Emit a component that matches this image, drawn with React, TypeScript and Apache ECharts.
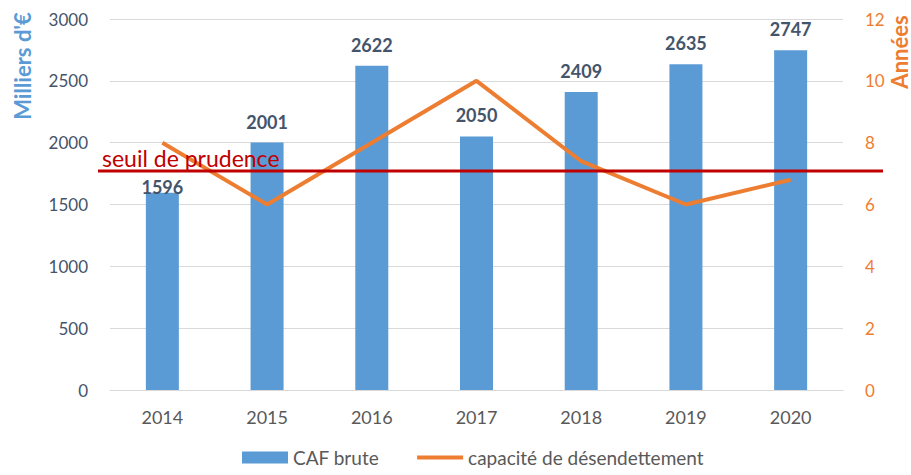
import React, { useEffect, useRef } from "react";
import * as echarts from "echarts";

const categories = ["2014", "2015", "2016", "2017", "2018", "2019", "2020"];
const cafBrute = [1596, 2001, 2622, 2050, 2409, 2635, 2747];
const capacite = [8, 6, 8, 10, 7.4, 6, 6.8];
const seuil = 1771;
const seuilLabel = "seuil de prudence";

const FONT = "Lato, 'Open Sans', sans-serif";

export default function App() {
  const ref = useRef<HTMLDivElement>(null);
  useEffect(() => {
    document.body.style.margin = "0";
    if (!ref.current) return;
    const chart = echarts.init(ref.current, null, { renderer: "svg" });
    chart.setOption({
      animation: false,
      textStyle: { fontFamily: FONT },
      grid: { left: 110, right: 68, top: 19, bottom: 85 },
      legend: {
        bottom: 3,
        left: 237,
        itemGap: 38,
        itemWidth: 46,
        itemHeight: 12,
        textStyle: { fontSize: 19, color: "#595959", fontFamily: FONT },
        data: [
          { name: "CAF brute", icon: "rect" },
          { name: "capacité de désendettement", icon: "path://M0,4h46v4h-46z" },
        ],
      },
      xAxis: {
        type: "category",
        data: categories,
        axisTick: { show: false },
        axisLine: { lineStyle: { color: "#D9D9D9", width: 1 } },
        axisLabel: { fontSize: 18, color: "#595959", margin: 18 },
      },
      yAxis: [
        {
          type: "value",
          min: 0,
          max: 3000,
          interval: 500,
          axisLine: { show: false },
          axisTick: { show: false },
          splitLine: { lineStyle: { color: "#D9D9D9" } },
          axisLabel: {
            fontSize: 17,
            color: "#44546A",
            margin: 22,
            formatter: (v: number) => String(v),
          },
        },
        {
          type: "value",
          min: 0,
          max: 12,
          interval: 2,
          axisLine: { show: false },
          axisTick: { show: false },
          splitLine: { show: false },
          axisLabel: { fontSize: 17, color: "#ED7D31", margin: 22 },
        },
      ],
      series: [
        {
          name: "CAF brute",
          type: "bar",
          barWidth: 33,
          itemStyle: { color: "#5B9BD5" },
          label: {
            show: true,
            position: "top",
            distance: 12,
            fontSize: 18,
            fontWeight: "bold",
            color: "#44546A",
          },
          data: cafBrute.map((v, i) =>
            i === 0 ? { value: v, label: { distance: -3 } } : v
          ),
        },
        {
          name: "capacité de désendettement",
          type: "line",
          yAxisIndex: 1,
          showSymbol: false,
          symbol: "none",
          lineStyle: { color: "#ED7D31", width: 4 },
          itemStyle: { color: "#ED7D31" },
          data: capacite,
        },
      ],
    });

    const y = chart.convertToPixel({ yAxisIndex: 0 }, seuil) as number;
    chart.setOption({
      graphic: [
        {
          type: "line",
          shape: { x1: 98, y1: y, x2: 883, y2: y },
          style: { stroke: "#C00000", lineWidth: 3 },
          z: 10,
        },
        {
          type: "text",
          x: 102,
          y: y - 1,
          style: {
            text: seuilLabel,
            fill: "#C00000",
            fontSize: 23,
            fontFamily: FONT,
            verticalAlign: "bottom",
          },
          z: 11,
        },
        {
          type: "text",
          x: 22,
          y: 66,
          rotation: Math.PI / 2,
          style: {
            text: "Milliers d'€",
            fill: "#5B9BD5",
            fontSize: 22,
            fontWeight: "bold",
            fontFamily: FONT,
            align: "center",
            verticalAlign: "middle",
          },
        },
        {
          type: "text",
          x: 899,
          y: 52,
          rotation: Math.PI / 2,
          style: {
            text: "Années",
            fill: "#ED7D31",
            fontSize: 22,
            fontWeight: "bold",
            fontFamily: FONT,
            align: "center",
            verticalAlign: "middle",
          },
        },
      ],
    });
    return () => chart.dispose();
  }, []);
  return <div ref={ref} style={{ width: 911, height: 475 }} />;
}
